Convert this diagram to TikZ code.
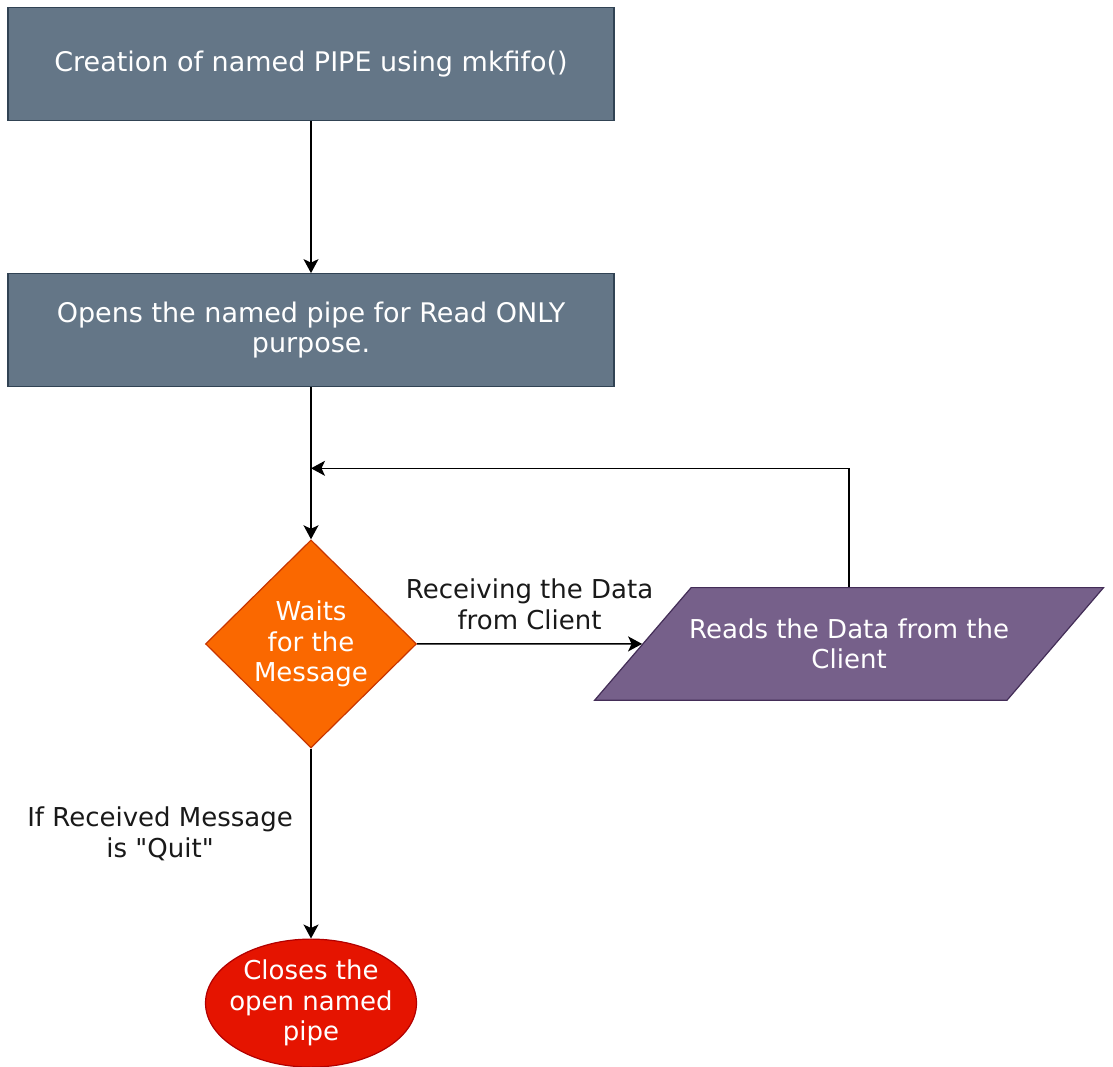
\documentclass[tikz,border=0pt]{standalone}
\usepackage{fontspec}
\setmainfont{DejaVu Sans}[Ligatures=TeXOff]
\usepackage{xcolor}
\usepackage{tikz}
\usetikzlibrary{shapes.geometric, arrows.meta, positioning, calc}

\definecolor{procfill}{HTML}{647687}
\definecolor{procline}{HTML}{314354}
\definecolor{decfill}{HTML}{FA6800}
\definecolor{decline}{HTML}{C73500}
\definecolor{datafill}{HTML}{76608A}
\definecolor{dataline}{HTML}{432D57}
\definecolor{termfill}{HTML}{E51400}
\definecolor{termline}{HTML}{B20000}

\begin{document}
\begin{tikzpicture}[x=1pt, y=-1pt,
        base/.style={
            draw, align=center, text=white, line width=1.2pt,
            font=\fontsize{26}{30.5}\selectfont
        },
        proc/.style={base, rectangle, fill=procfill, draw=procline, minimum width=606pt, minimum height=113pt,
            font=\fontsize{27}{30.5}\selectfont},
        decision/.style={base, diamond, fill=decfill, draw=decline, inner sep=0pt, minimum width=211pt, minimum height=208pt},
        data/.style={base, trapezium, trapezium left angle=49.4, trapezium right angle=130.6,
            fill=datafill, draw=dataline, inner xsep=-2pt, inner ysep=31pt},
        term/.style={base, ellipse, fill=termfill, draw=termline, inner xsep=-10pt, inner ysep=0pt, minimum width=211pt, minimum height=128pt},
        lbl/.style={align=center, text=black!90, font=\fontsize{26}{30.5}\selectfont},
        arrow/.style={line width=1.5pt, -{Stealth[length=14pt, width=15pt, inset=3.5pt]}}
    ]
        \useasboundingbox (0,0) rectangle (1113,1066);

        % Nodes
        \node[proc] (create) at (311,64) {Creation of named PIPE using mkfifo()};

        \node[proc, below=152pt of create] (open) {Opens the named pipe for Read ONLY \\ purpose.};

        \node[decision, below=152pt of open] (wait) {Waits \\ for the \\ Message};

        \node[data, right=225pt of wait] (read) {Reads the Data from the \\ Client};

        \node[term, below=190pt of wait] (close) {Closes the \\ open named \\ pipe};

        \coordinate[below=81pt of open.south] (join);

        % Arrows
        \draw[arrow] (create) -- (open);
        \draw[arrow] (open) -- (wait);
        \draw[arrow] (wait) -- node[lbl, above=10pt] {Receiving the Data \\ from Client} (read);
        \draw[arrow] (read.north) |- (join);
        \draw[arrow] (wait) -- node[lbl, left=14pt, pos=0.45] {If Received Message \\ is "Quit"} (close);

    \end{tikzpicture}
\end{document}
